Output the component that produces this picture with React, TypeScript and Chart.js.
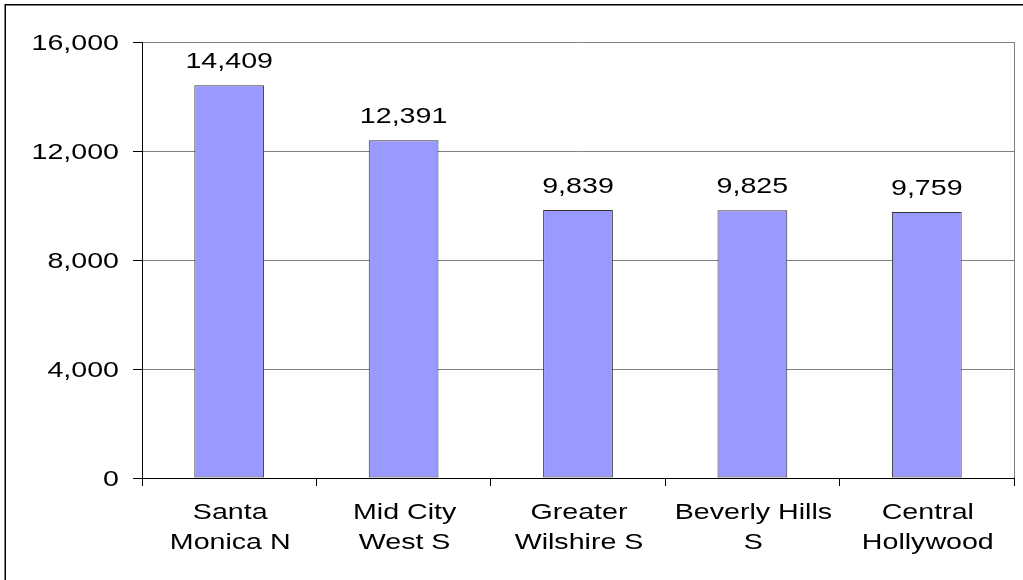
import React, { useEffect, useRef } from "react";
import { Chart, registerables } from "chart.js";

Chart.register(...registerables);

const categories: string[][] = [
  ["Santa", "Monica N"],
  ["Mid City", "West S"],
  ["Greater", "Wilshire S"],
  ["Beverly Hills", "S"],
  ["Central", "Hollywood"],
];
const values: number[] = [14409, 12391, 9839, 9825, 9759];
const yMin = 0;
const yMax = 16000;
const yStep = 4000;

const FONT = '22px "Liberation Sans", Arial, sans-serif';
const SX = 1.3;

function drawStretched(
  ctx: CanvasRenderingContext2D,
  text: string,
  x: number,
  y: number,
  align: CanvasTextAlign
) {
  ctx.save();
  ctx.translate(x, y);
  ctx.scale(SX, 1);
  ctx.font = FONT;
  ctx.fillStyle = "#000";
  ctx.textAlign = align;
  ctx.textBaseline = "alphabetic";
  ctx.fillText(text, 0, 0);
  ctx.restore();
}

const fmt = (v: number) => v.toLocaleString("en-US");

const textPlugin = {
  id: "textPlugin",
  afterDraw(chart: any) {
    const ctx: CanvasRenderingContext2D = chart.ctx;
    const area = chart.chartArea;
    const ys = chart.scales.y;
    const xs = chart.scales.x;

    // plot area right border
    ctx.save();
    ctx.strokeStyle = "#808080";
    ctx.lineWidth = 1;
    ctx.beginPath();
    ctx.moveTo(Math.round(area.right) + 0.5, area.top);
    ctx.lineTo(Math.round(area.right) + 0.5, area.bottom);
    ctx.stroke();
    ctx.restore();

    // y tick labels
    ys.ticks.forEach((t: any) => {
      const y = ys.getPixelForValue(t.value);
      drawStretched(ctx, fmt(t.value), area.left - 23, y + 7.5, "right");
    });

    // x category labels
    categories.forEach((lines, i) => {
      const x = xs.getPixelForValue(i);
      lines.forEach((ln, j) => {
        drawStretched(ctx, ln, x + 1, area.bottom + 41 + j * 30, "center");
      });
    });

    // data labels
    const meta = chart.getDatasetMeta(0);
    meta.data.forEach((bar: any, i: number) => {
      drawStretched(ctx, fmt(values[i]), bar.x, bar.y - 17, "center");
    });

    // outer frame
    ctx.save();
    ctx.strokeStyle = "#000";
    ctx.lineWidth = 1.5;
    ctx.beginPath();
    ctx.moveTo(5.25, 580);
    ctx.lineTo(5.25, 4.75);
    ctx.lineTo(1023, 4.75);
    ctx.stroke();
    ctx.restore();
  },
};

export default function App() {
  const ref = useRef<HTMLCanvasElement | null>(null);

  useEffect(() => {
    if (!ref.current) return;
    const chart = new Chart(ref.current, {
      type: "bar",
      data: {
        labels: categories.map((c) => c.join(" ")),
        datasets: [
          {
            data: values,
            backgroundColor: "#9999FF",
            borderColor: "#333333",
            borderWidth: 1,
            borderSkipped: false,
            barPercentage: 0.4,
            categoryPercentage: 1,
          },
        ],
      },
      options: {
        animation: false,
        responsive: false,
        maintainAspectRatio: false,
        layout: { padding: { left: 0, top: 42, right: 9, bottom: 0 } },
        plugins: {
          legend: { display: false },
          tooltip: { enabled: false },
        },
        scales: {
          x: {
            ticks: { display: false },
            grid: {
              offset: true,
              drawOnChartArea: false,
              drawTicks: true,
              tickLength: 8,
              tickColor: "#000",
            },
            border: { display: true, color: "#000", width: 1 },
            afterFit: (s: any) => {
              s.height = 102;
            },
          },
          y: {
            min: yMin,
            max: yMax,
            ticks: { display: false, stepSize: yStep },
            grid: {
              color: (c: any) => (c.tick && c.tick.value === 0 ? "#000" : "#808080"),
              drawTicks: true,
              tickLength: 9,
              tickColor: "#000",
            },
            border: { display: true, color: "#000", width: 1 },
            afterFit: (s: any) => {
              s.width = 142;
            },
          },
        },
      } as any,
      plugins: [textPlugin],
    });
    return () => chart.destroy();
  }, []);

  return (
    <div style={{ position: "fixed", left: 0, top: 0, width: 1023, height: 580, background: "#fff" }}>
      <canvas ref={ref} width={1023} height={580} style={{ display: "block" }} />
    </div>
  );
}
